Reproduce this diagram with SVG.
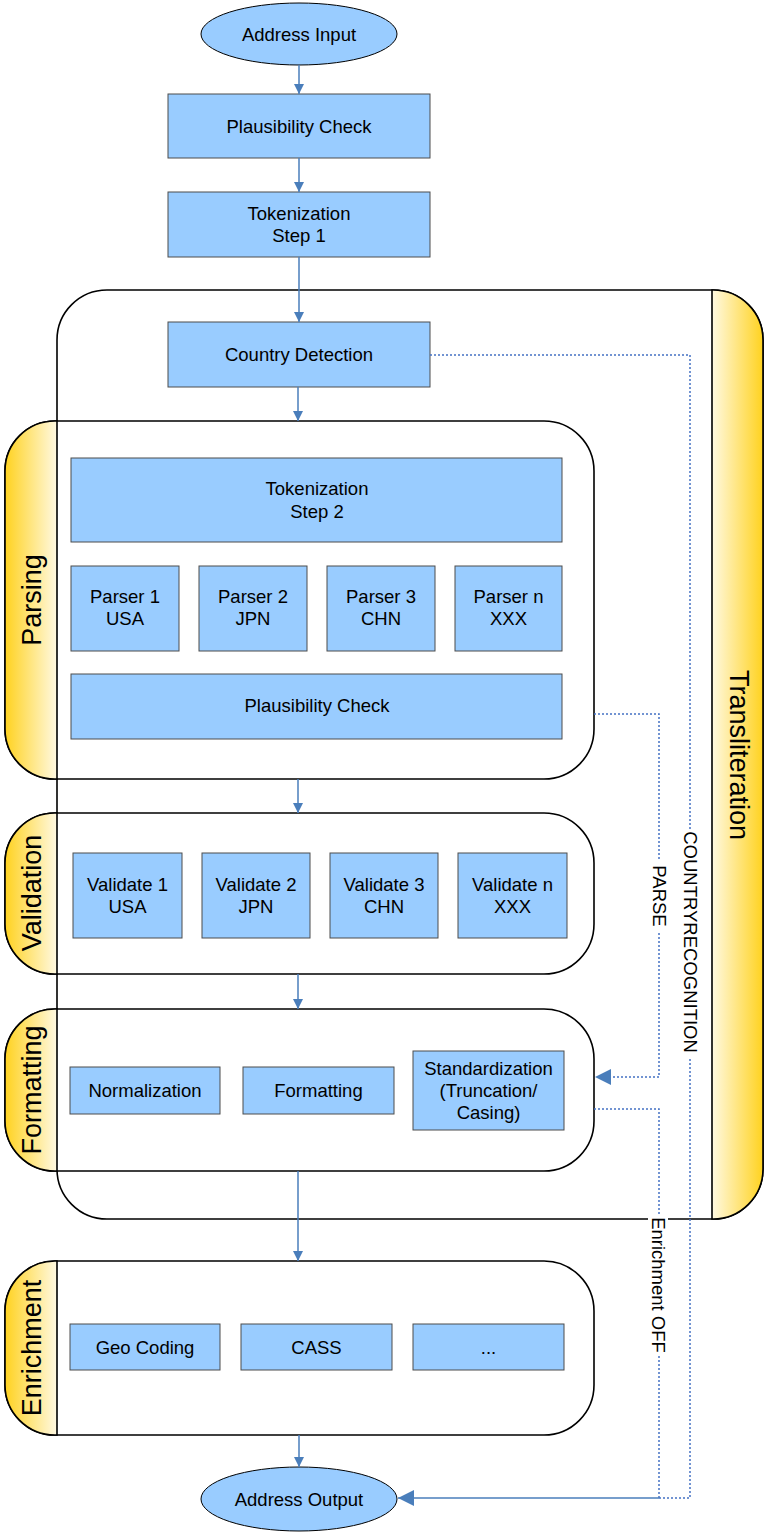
<svg xmlns="http://www.w3.org/2000/svg" width="766" height="1533" viewBox="0 0 766 1533">
  <defs>
    <linearGradient id="bandL" x1="0" y1="0" x2="1" y2="0">
      <stop offset="0" stop-color="#FFD21F"/>
      <stop offset="1" stop-color="#FFF9E2"/>
    </linearGradient>
    <linearGradient id="bandR" x1="1" y1="0" x2="0" y2="0">
      <stop offset="0" stop-color="#FFD21F"/>
      <stop offset="1" stop-color="#FFF9E2"/>
    </linearGradient>
    <marker id="arr" viewBox="0 0 10 10" refX="10" refY="5" markerUnits="userSpaceOnUse" markerWidth="10" markerHeight="12" orient="auto">
      <path d="M0,0 L10,5 L0,10 Z" fill="#4A7EBB"/>
    </marker>
    <marker id="arrBig" viewBox="0 0 10 10" refX="10" refY="5" markerUnits="userSpaceOnUse" markerWidth="20" markerHeight="16" orient="auto">
      <path d="M0,0 L10,5 L0,10 Z" fill="#4A7EBB"/>
    </marker>
    <style>
      .box{fill:#99CCFF;stroke:#4d4d4d;stroke-width:1}
      .term{fill:#99CCFF;stroke:#000;stroke-width:1}
      .frame{fill:#fff;stroke:#000;stroke-width:1.6}
      .bandL{fill:url(#bandL);stroke:#000;stroke-width:1.6}
      .bandR{fill:url(#bandR);stroke:#000;stroke-width:1.6}
      text{font-family:"Liberation Sans",Arial,sans-serif;fill:#000}
      .t{font-size:18.5px;text-anchor:middle}
      .lane{font-size:27px;text-anchor:middle}
      .flow{fill:none;stroke:#4A7EBB;stroke-width:1.5}
      .dot{fill:none;stroke:#4472C4;stroke-width:1.5;stroke-dasharray:2 2}
      .bg{fill:#fff}
    </style>
  </defs>

  <!-- Transliteration swimlane -->
  <g id="lane-transliteration">
    <rect class="frame" x="57" y="290" width="706" height="929" rx="50"/>
    <path class="bandR" d="M712,290 H713 A50,50 0 0 1 763,340 V1169 A50,50 0 0 1 713,1219 H712 Z"/>
    <text class="lane" transform="translate(739,755) rotate(90)" y="9.5">Transliteration</text>
  </g>

  <!-- Parsing lane -->
  <g id="lane-parsing">
    <rect class="frame" x="5" y="421" width="589" height="358" rx="50"/>
    <path class="bandL" d="M57,421 H55 A50,50 0 0 0 5,471 V729 A50,50 0 0 0 55,779 H57 Z"/>
    <text class="lane" transform="translate(31,600) rotate(-90)" y="9.5">Parsing</text>
  </g>

  <!-- Validation lane -->
  <g id="lane-validation">
    <rect class="frame" x="5" y="813" width="589" height="161" rx="50"/>
    <path class="bandL" d="M57,813 H55 A50,50 0 0 0 5,863 V924 A50,50 0 0 0 55,974 H57 Z"/>
    <text class="lane" transform="translate(31,893) rotate(-90)" y="9.5">Validation</text>
  </g>

  <!-- Formatting lane -->
  <g id="lane-formatting">
    <rect class="frame" x="5" y="1009" width="589" height="162" rx="50"/>
    <path class="bandL" d="M57,1009 H55 A50,50 0 0 0 5,1059 V1121 A50,50 0 0 0 55,1171 H57 Z"/>
    <text class="lane" transform="translate(31,1090) rotate(-90)" y="9.5">Formatting</text>
  </g>

  <!-- Enrichment lane -->
  <g id="lane-enrichment">
    <rect class="frame" x="5" y="1261" width="589" height="174" rx="50"/>
    <path class="bandL" d="M57,1261 H55 A50,50 0 0 0 5,1311 V1385 A50,50 0 0 0 55,1435 H57 Z"/>
    <text class="lane" transform="translate(31,1348) rotate(-90)" y="9.5">Enrichment</text>
  </g>

  <!-- Terminals -->
  <g id="address-input">
    <ellipse class="term" cx="299" cy="34" rx="98" ry="31"/>
    <text class="t" x="299" y="40.5">Address Input</text>
  </g>
  <g id="address-output">
    <ellipse class="term" cx="299" cy="1499" rx="98" ry="32"/>
    <text class="t" x="299" y="1505.5">Address Output</text>
  </g>

  <!-- Pre-processing -->
  <g id="plausibility-check-1">
    <rect class="box" x="168" y="94" width="262" height="64"/>
    <text class="t" x="299" y="132.5">Plausibility Check</text>
  </g>
  <g id="tokenization-1">
    <rect class="box" x="168" y="192" width="262" height="65"/>
    <text class="t" x="299" y="219.5">Tokenization</text>
    <text class="t" x="299" y="242">Step 1</text>
  </g>
  <g id="country-detection">
    <rect class="box" x="168" y="322" width="262" height="65"/>
    <text class="t" x="299" y="361">Country Detection</text>
  </g>

  <!-- Parsing -->
  <g id="tokenization-2">
    <rect class="box" x="71" y="458" width="491" height="84"/>
    <text class="t" x="317" y="494.5">Tokenization</text>
    <text class="t" x="317" y="517.5">Step 2</text>
  </g>
  <g id="parser-1">
    <rect class="box" x="71" y="566" width="108" height="85"/>
    <text class="t" x="125" y="602.5">Parser 1</text>
    <text class="t" x="125" y="624.5">USA</text>
  </g>
  <g id="parser-2">
    <rect class="box" x="199" y="566" width="108" height="85"/>
    <text class="t" x="253" y="602.5">Parser 2</text>
    <text class="t" x="253" y="624.5">JPN</text>
  </g>
  <g id="parser-3">
    <rect class="box" x="327" y="566" width="108" height="85"/>
    <text class="t" x="381" y="602.5">Parser 3</text>
    <text class="t" x="381" y="624.5">CHN</text>
  </g>
  <g id="parser-n">
    <rect class="box" x="455" y="566" width="107" height="85"/>
    <text class="t" x="508.5" y="602.5">Parser n</text>
    <text class="t" x="508.5" y="624.5">XXX</text>
  </g>
  <g id="plausibility-check-2">
    <rect class="box" x="71" y="674" width="491" height="65"/>
    <text class="t" x="317" y="712">Plausibility Check</text>
  </g>

  <!-- Validation -->
  <g id="validate-1">
    <rect class="box" x="73" y="853" width="109" height="85"/>
    <text class="t" x="127.5" y="890.5">Validate 1</text>
    <text class="t" x="127.5" y="912.5">USA</text>
  </g>
  <g id="validate-2">
    <rect class="box" x="202" y="853" width="108" height="85"/>
    <text class="t" x="256" y="890.5">Validate 2</text>
    <text class="t" x="256" y="912.5">JPN</text>
  </g>
  <g id="validate-3">
    <rect class="box" x="330" y="853" width="108" height="85"/>
    <text class="t" x="384" y="890.5">Validate 3</text>
    <text class="t" x="384" y="912.5">CHN</text>
  </g>
  <g id="validate-n">
    <rect class="box" x="458" y="853" width="109" height="85"/>
    <text class="t" x="512.5" y="890.5">Validate n</text>
    <text class="t" x="512.5" y="912.5">XXX</text>
  </g>

  <!-- Formatting -->
  <g id="normalization">
    <rect class="box" x="70" y="1067" width="150" height="47"/>
    <text class="t" x="145" y="1096.5">Normalization</text>
  </g>
  <g id="formatting">
    <rect class="box" x="243" y="1067" width="151" height="47"/>
    <text class="t" x="318.5" y="1096.5">Formatting</text>
  </g>
  <g id="standardization">
    <rect class="box" x="413" y="1051" width="151" height="79"/>
    <text class="t" x="488.5" y="1074.5">Standardization</text>
    <text class="t" x="488.5" y="1096.5">(Truncation/</text>
    <text class="t" x="488.5" y="1118.5">Casing)</text>
  </g>

  <!-- Enrichment -->
  <g id="geo-coding">
    <rect class="box" x="70" y="1324" width="150" height="46"/>
    <text class="t" x="145" y="1353.5">Geo Coding</text>
  </g>
  <g id="cass">
    <rect class="box" x="241" y="1324" width="151" height="46"/>
    <text class="t" x="316.5" y="1353.5">CASS</text>
  </g>
  <g id="more">
    <rect class="box" x="413" y="1324" width="151" height="46"/>
    <text class="t" x="488.5" y="1353.5">...</text>
  </g>

  <!-- Connectors -->
  <g id="connectors">
    <line class="flow" x1="299" y1="65" x2="299" y2="94" marker-end="url(#arr)"/>
    <line class="flow" x1="299" y1="158" x2="299" y2="192" marker-end="url(#arr)"/>
    <line class="flow" x1="299" y1="257" x2="299" y2="322" marker-end="url(#arr)"/>
    <line class="flow" x1="298" y1="387" x2="298" y2="421" marker-end="url(#arr)"/>
    <line class="flow" x1="298" y1="779" x2="298" y2="813" marker-end="url(#arr)"/>
    <line class="flow" x1="298" y1="974" x2="298" y2="1009" marker-end="url(#arr)"/>
    <line class="flow" x1="298" y1="1171" x2="298" y2="1261" marker-end="url(#arr)"/>
    <line class="flow" x1="299" y1="1435" x2="299" y2="1467" marker-end="url(#arr)"/>

    <!-- country recognition bypass -->
    <path class="dot" d="M430,355 H690 V1498 H659"/>
    <!-- parse bypass -->
    <path class="dot" d="M594,714 H659 V1077 H595" marker-end="url(#arrBig)"/>
    <!-- enrichment off bypass -->
    <path class="dot" d="M594,1109 H659 V1498"/>
    <line class="flow" x1="659" y1="1498" x2="398" y2="1498" marker-end="url(#arrBig)"/>

    <rect class="bg" x="682" y="829" width="16" height="228"/>
    <text class="t" transform="translate(690,942) rotate(90)" y="6.5">COUNTRYRECOGNITION</text>
    <rect class="bg" x="651" y="861" width="16" height="70"/>
    <text class="t" transform="translate(659,896) rotate(90)" y="6.5">PARSE</text>
    <rect class="bg" x="648" y="1214" width="20" height="142"/>
    <text class="t" transform="translate(658,1285) rotate(90)" y="6.5">Enrichment OFF</text>
  </g>
</svg>
